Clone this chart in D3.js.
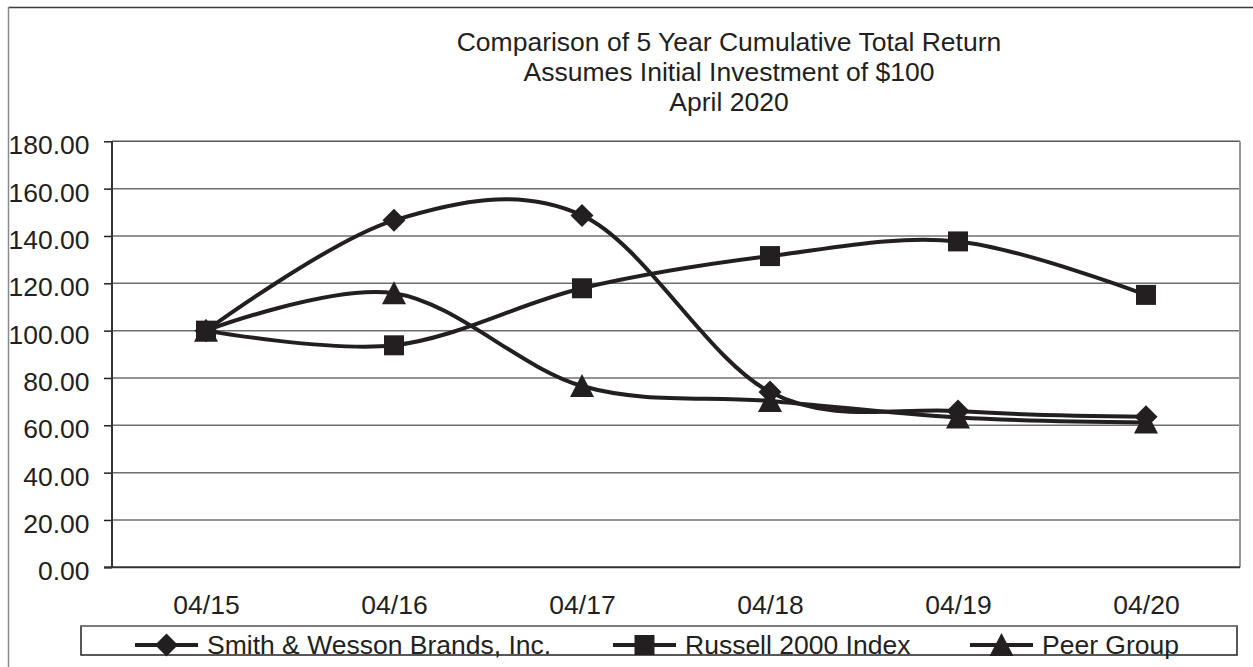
<!DOCTYPE html>
<html>
<head>
<meta charset="utf-8">
<script src="https://cdn.jsdelivr.net/npm/d3@7"></script>
<style>
  html, body { margin: 0; padding: 0; background: #fff; }
  svg { display: block; }
  text { font-family: "Liberation Sans", Arial, Helvetica, sans-serif; fill: #231f20; }
</style>
</head>
<body>
<svg id="chart" width="1253" height="667"></svg>
<script>
// ---- data ----
const categories = ["04/15", "04/16", "04/17", "04/18", "04/19", "04/20"];
const smithWesson = [100.00, 146.6, 148.7, 74.1, 66.0, 63.6];
const russell2000 = [100.00, 93.8, 117.9, 131.5, 137.7, 115.1];
const peerGroup   = [100.00, 115.8, 76.6, 70.3, 63.3, 61.2];
const yTicks = [0, 20, 40, 60, 80, 100, 120, 140, 160, 180];
const titleLines = ["Comparison of 5 Year Cumulative Total Return", "Assumes Initial Investment of $100", "April 2020"];
const seriesNames = ["Smith & Wesson Brands, Inc.", "Russell 2000 Index", "Peer Group"];

const series = [
  { name: seriesNames[0], values: smithWesson, marker: "diamond" },
  { name: seriesNames[1], values: russell2000, marker: "square" },
  { name: seriesNames[2], values: peerGroup, marker: "triangle" }
];

const ink = "#231f20";
const svg = d3.select("#chart");

// outer frame
svg.append("line").attr("x1", 8).attr("x2", 1260).attr("y1", 7.5).attr("y2", 7.5)
  .attr("stroke", "#3a3a3a").attr("stroke-width", 1.5);
svg.append("line").attr("x1", 8.5).attr("x2", 8.5).attr("y1", 7).attr("y2", 680)
  .attr("stroke", "#8a8a8a").attr("stroke-width", 1.5);

// plot area
const plot = { left: 112, right: 1240, top: 141.3, bottom: 567.3 };
const x = d3.scalePoint().domain(categories).range([plot.left, plot.right]).padding(0.5);
const y = d3.scaleLinear().domain([0, 180]).range([plot.bottom, plot.top]);

// gridlines
svg.append("g").selectAll("line").data(yTicks.filter(d => d > 0)).join("line")
  .attr("x1", plot.left).attr("x2", plot.right)
  .attr("y1", d => y(d)).attr("y2", d => y(d))
  .attr("stroke", d => d === 180 ? "#555" : "#6f6f6f").attr("stroke-width", 1.5);

// right border
svg.append("line").attr("x1", plot.right).attr("x2", plot.right)
  .attr("y1", plot.top).attr("y2", plot.bottom)
  .attr("stroke", "#999").attr("stroke-width", 2);

// y axis
const yAxis = d3.axisLeft(y).tickValues(yTicks).tickSize(8).tickPadding(0)
  .tickFormat(d3.format(".2f"));
const gy = svg.append("g").attr("transform", `translate(${plot.left},0)`).call(yAxis);
gy.select(".domain").remove();
gy.selectAll(".tick line").attr("stroke", ink).attr("stroke-width", 1.5);
gy.selectAll(".tick text")
  .attr("x", 89.5 - plot.left).attr("dy", null).attr("y", 12.5)
  .attr("font-size", "26.5px").attr("fill", ink)
  .attr("font-family", "Liberation Sans, Arial, Helvetica, sans-serif");

// axis lines
svg.append("line").attr("x1", plot.left).attr("x2", plot.left)
  .attr("y1", plot.top).attr("y2", plot.bottom)
  .attr("stroke", "#333").attr("stroke-width", 2);
svg.append("line").attr("x1", plot.left - 8).attr("x2", plot.right)
  .attr("y1", plot.bottom).attr("y2", plot.bottom)
  .attr("stroke", "#333").attr("stroke-width", 2);

// x axis labels
const xAxis = d3.axisBottom(x).tickSize(0).tickPadding(0);
const gx = svg.append("g").attr("transform", `translate(0,${plot.bottom})`).call(xAxis);
gx.select(".domain").remove();
gx.selectAll(".tick text")
  .attr("dy", null).attr("y", 614 - plot.bottom)
  .attr("font-size", "26.5px").attr("fill", ink)
  .attr("font-family", "Liberation Sans, Arial, Helvetica, sans-serif");

// title
svg.append("g").selectAll("text").data(titleLines).join("text")
  .attr("x", 729).attr("y", (d, i) => 51 + i * 30)
  .attr("text-anchor", "middle").attr("font-size", "26.5px")
  .text(d => d);

// markers
function markerPath(type) {
  if (type === "diamond") return "M0,-11.5L11.5,0L0,11.5L-11.5,0Z";
  if (type === "square") return "M-10,-10H10V10H-10Z";
  return "M0,-12L12,11H-12Z";
}

// lines
const line = d3.line()
  .x((d, i) => x(categories[i]))
  .y(d => y(d))
  .curve(d3.curveCatmullRom.alpha(0));

series.forEach(s => {
  svg.append("path").datum(s.values)
    .attr("d", line).attr("fill", "none")
    .attr("stroke", ink).attr("stroke-width", 4);
});
series.forEach(s => {
  svg.append("g").selectAll("path").data(s.values).join("path")
    .attr("d", markerPath(s.marker))
    .attr("transform", (d, i) => `translate(${x(categories[i])},${y(d)})`)
    .attr("fill", ink);
});

// legend
svg.append("rect").attr("x", 81).attr("y", 626).attr("width", 1156).attr("height", 29)
  .attr("fill", "none").attr("stroke", ink).attr("stroke-width", 1.5);
svg.append("line").attr("x1", 81).attr("x2", 1237).attr("y1", 626).attr("y2", 626)
  .attr("stroke", "#888").attr("stroke-width", 1.5);

const legendX = [135, 613, 970];
series.forEach((s, i) => {
  const g = svg.append("g").attr("transform", `translate(${legendX[i]},645)`);
  g.append("line").attr("x1", 0).attr("x2", 63).attr("y1", 0).attr("y2", 0)
    .attr("stroke", ink).attr("stroke-width", 4);
  g.append("path").attr("d", markerPath(s.marker))
    .attr("transform", `translate(31.5,0)`).attr("fill", ink);
  g.append("text").attr("x", 72).attr("y", 8.5)
    .attr("font-size", "26.5px").text(s.name);
});
</script>
</body>
</html>
